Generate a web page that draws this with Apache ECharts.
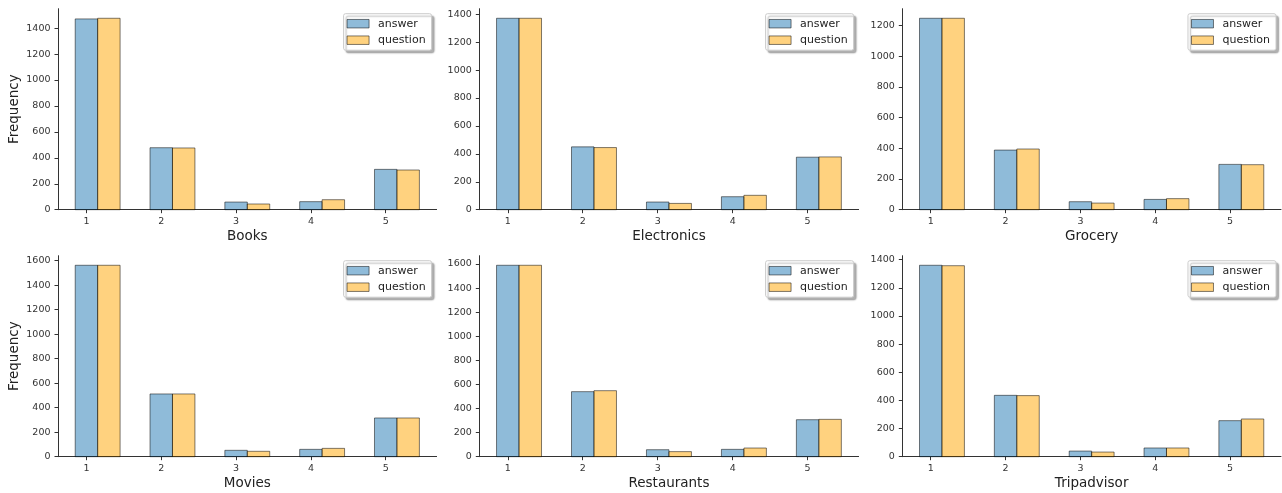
<!DOCTYPE html>
<html>
<head>
<meta charset="utf-8">
<script src="https://cdn.jsdelivr.net/npm/echarts@6/dist/echarts.min.js"></script>
<style>
html,body{margin:0;padding:0;background:#fff;}
#c{width:1282px;height:493px;}
</style>
</head>
<body>
<div id="c"></div>
<script>
const categories = [1, 2, 3, 4, 5];
const panelNames = ['Books', 'Electronics', 'Grocery', 'Movies', 'Restaurants', 'Tripadvisor'];
const seriesNames = ['answer', 'question'];

const booksAnswer = [1471, 478, 59, 62, 311];
const booksQuestion = [1476, 476, 44, 77, 306];
const electronicsAnswer = [1371, 450, 55, 93, 376];
const electronicsQuestion = [1371, 445, 45, 103, 378];
const groceryAnswer = [1246, 388, 52, 67, 295];
const groceryQuestion = [1246, 395, 43, 72, 293];
const moviesAnswer = [1562, 512, 52, 60, 316];
const moviesQuestion = [1562, 512, 44, 68, 316];
const restaurantsAnswer = [1589, 540, 58, 61, 307];
const restaurantsQuestion = [1589, 548, 42, 72, 310];
const tripadvisorAnswer = [1360, 436, 40, 62, 256];
const tripadvisorQuestion = [1357, 434, 33, 62, 268];

const answers = [booksAnswer, electronicsAnswer, groceryAnswer, moviesAnswer, restaurantsAnswer, tripadvisorAnswer];
const questions = [booksQuestion, electronicsQuestion, groceryQuestion, moviesQuestion, restaurantsQuestion, tripadvisorQuestion];

const FONT = 'DejaVu Sans';
const colors = ['rgba(31,119,180,0.5)', 'rgba(255,165,0,0.5)'];
const edge = 'rgba(0,0,0,0.5)';
const BW = 0.3;

// grid geometry (pixels)
const colLeft = [58, 479.3, 902.3];
const colRight = [436.6, 858.6, 1281];
const rowTop = [8.7, 255.7];
const H = 201;

const grids = [], xAxes = [], yAxes = [], series = [], legends = [];
const plain = v => String(Math.round(v));

for (let p = 0; p < 6; p++) {
  const r = Math.floor(p / 3), c = p % 3;
  const left = colLeft[c], width = colRight[c] - colLeft[c];
  grids.push({ left: left, top: rowTop[r], width: width, height: H, containLabel: false });
  const all = answers[p].concat(questions[p]);
  const ymax = Math.max.apply(null, all) * 1.05;
  const yt = [];
  for (let v = 0; v <= ymax; v += 200) yt.push(v);
  const xmin = categories[0] - BW / 2 - 0.23;
  const xmax = categories[categories.length - 1] + 1.5 * BW + 0.23;
  xAxes.push({
    type: 'value', gridIndex: p, min: xmin, max: xmax,
    name: panelNames[p], nameLocation: 'middle', nameGap: 20,
    nameTextStyle: { fontFamily: FONT, fontSize: 13.5, color: '#222' },
    axisLine: { show: true, onZero: false, lineStyle: { color: '#333', width: 1 } },
    axisTick: { show: true, length: 3.5, customValues: categories, lineStyle: { color: '#333' } },
    axisLabel: { customValues: categories, formatter: plain, margin: 7, fontFamily: FONT, fontSize: 9.5, color: '#333' },
    splitLine: { show: false }
  });
  yAxes.push({
    type: 'value', gridIndex: p, min: 0, max: ymax,
    name: c === 0 ? 'Frequency' : '', nameLocation: 'middle', nameGap: 37,
    nameTextStyle: { fontFamily: FONT, fontSize: 13.5, color: '#222' },
    axisLine: { show: true, lineStyle: { color: '#333', width: 1 } },
    axisTick: { show: true, length: 3.5, customValues: yt, lineStyle: { color: '#333' } },
    axisLabel: { customValues: yt, formatter: plain, margin: 7.5, fontFamily: FONT, fontSize: 9.5, color: '#333' },
    splitLine: { show: false }
  });
  [answers[p], questions[p]].forEach((vals, s) => {
    const startOff = s === 0 ? -BW / 2 : BW / 2;
    series.push({
      type: 'custom', name: seriesNames[s], xAxisIndex: p, yAxisIndex: p,
      itemStyle: { color: colors[s], borderColor: edge, borderWidth: 1 },
      data: categories.map((cat, i) => [cat, vals[i]]),
      renderItem: function (params, api) {
        const x = api.value(0), v = api.value(1);
        const p0 = api.coord([x + startOff, v]);
        const p1 = api.coord([x + startOff + BW, 0]);
        return {
          type: 'rect',
          shape: { x: p0[0], y: p0[1], width: p1[0] - p0[0], height: p1[1] - p0[1] },
          style: { fill: colors[s], stroke: edge, lineWidth: 1 }
        };
      }
    });
  });
  legends.push({
    orient: 'vertical',
    right: 1282 - (colRight[c] - 5),
    top: rowTop[r] + 5,
    icon: 'rect', itemWidth: 22, itemHeight: 8.5, itemGap: 4.5,
    padding: [4, 6, 4, 3],
    backgroundColor: '#fff',
    borderColor: '#ccc', borderWidth: 1, borderRadius: 2,
    shadowColor: 'rgba(0,0,0,0.3)', shadowBlur: 1.5, shadowOffsetX: 2.5, shadowOffsetY: 2.5,
    textStyle: { fontFamily: FONT, fontSize: 11, color: '#222', lineHeight: 12, padding: [0, 0, 0, 4] },
    selectedMode: false,
    data: seriesNames.map((n, s) => ({ name: n, itemStyle: { color: colors[s], borderColor: edge, borderWidth: 1 } }))
  });
}

const chart = echarts.init(document.getElementById('c'), null, { renderer: 'canvas' });
chart.setOption({
  animation: false,
  backgroundColor: '#fff',
  grid: grids, xAxis: xAxes, yAxis: yAxes, series: series, legend: legends
});
</script>
</body>
</html>
